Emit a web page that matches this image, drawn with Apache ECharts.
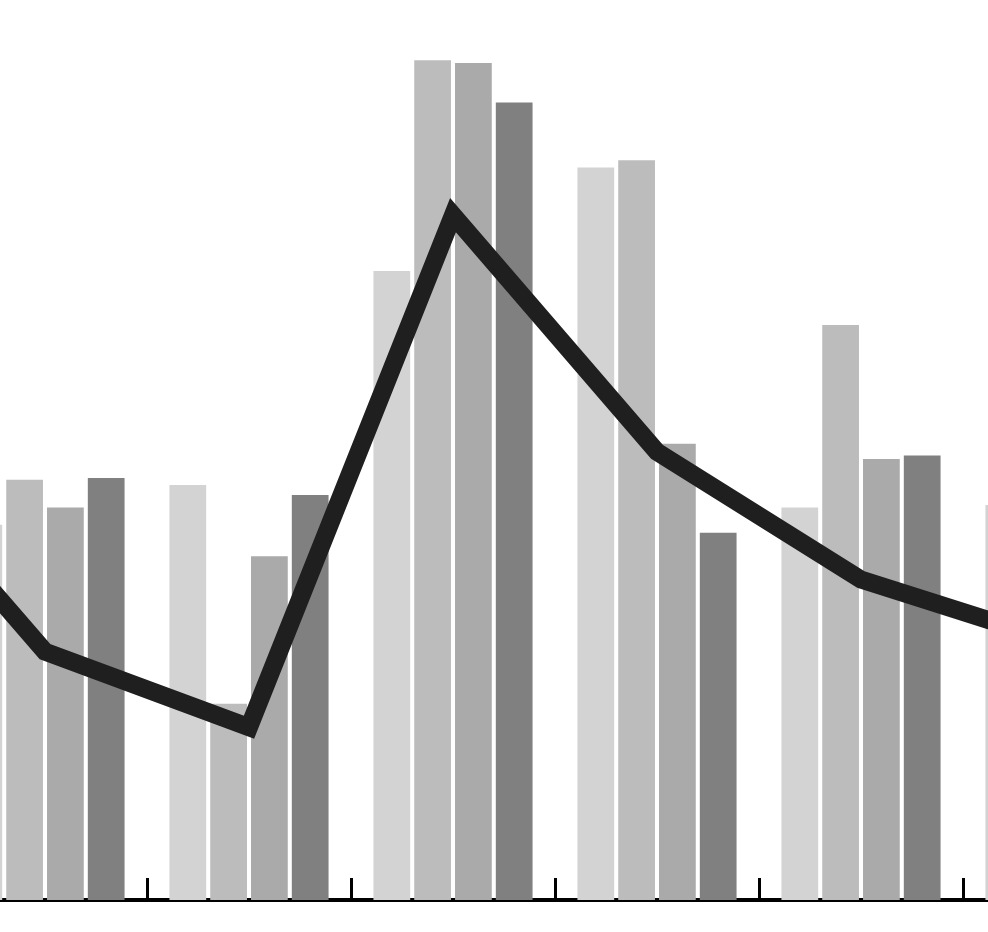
<!DOCTYPE html>
<html>
<head>
<meta charset="utf-8">
<script src="https://cdn.jsdelivr.net/npm/echarts@6/dist/echarts.min.js"></script>
<style>
  html, body { margin: 0; padding: 0; background: #fff; overflow: hidden; }
  #wrap { position: relative; width: 988px; height: 932px; overflow: hidden; }
  /* plot is wider than the window: first and last groups are cut off */
  #chart { position: absolute; left: -261px; top: 0; width: 1428px; height: 932px; }
</style>
</head>
<body>
<div id="wrap"><div id="chart"></div></div>
<script>
// categories (first and last are mostly outside the visible frame)
const categories = ["G0", "G1", "G2", "G3", "G4", "G5", "G6"];
const seriesA = [40.0, 41.7, 46.1, 69.9, 81.4, 43.6, 43.9];
const seriesB = [45.0, 46.7, 21.8, 93.3, 82.2, 63.9, 60.0];
const seriesC = [42.0, 43.6, 38.2, 93.0, 50.7, 49.0, 50.0];
const seriesD = [44.0, 46.9, 45.0, 88.6, 40.8, 49.4, 45.0];
const lineValues = [53.8, 27.6, 19.2, 76.1, 49.8, 35.6, 28.4];

const barColors = ["#d3d3d3", "#bcbcbc", "#aaaaaa", "#808080"];

let chart = echarts.init(document.getElementById("chart"));

function bar(data, color) {
  return {
    type: "bar",
    data: data,
    barCategoryGap: "22%",
    barGap: "11%",
    itemStyle: { color: color },
    z: 2
  };
}

chart.setOption({
  animation: false,
  grid: {
    left: 0,
    right: 0,
    top: 0,
    bottom: 32,
    containLabel: false
  },
  xAxis: {
    type: "category",
    data: categories,
    z: 0,
    axisLine: { show: true, lineStyle: { color: "#000", width: 4 } },
    axisTick: { show: true, inside: true, length: 22, lineStyle: { color: "#000", width: 3 } },
    axisLabel: { show: false }
  },
  yAxis: {
    type: "value",
    min: 0,
    max: 100,
    show: false,
    splitLine: { show: false }
  },
  series: [
    bar(seriesA, barColors[0]),
    bar(seriesB, barColors[1]),
    bar(seriesC, barColors[2]),
    bar(seriesD, barColors[3]),
    {
      type: "line",
      data: lineValues,
      symbol: "none",
      z: 5,
      lineStyle: { color: "#1f1f1f", width: 18, join: "miter", cap: "butt" }
    }
  ]
});
</script>
</body>
</html>
